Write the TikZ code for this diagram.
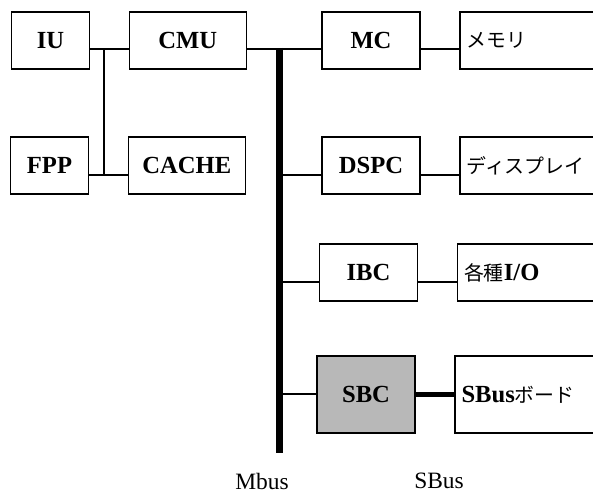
\documentclass[tikz,border=0pt]{standalone}
\usepackage{fontspec}
\setmainfont{Liberation Serif}
\newfontfamily\jfont{Noto Sans CJK JP}
\usetikzlibrary{positioning}

\begin{document}
\begin{tikzpicture}[x=0.3mm,y=-0.3mm,node distance=11.5mm,
  font=\fontsize{21}{24}\selectfont\bfseries]
\tikzstyle{blk}=[draw,line width=1.3pt,minimum height=17.1mm,inner sep=0pt,align=center]
\tikzstyle{dev}=[blk,minimum width=48mm,text width=44mm,inner xsep=2mm,align=left]
\tikzstyle{ln}=[line width=1.2pt]
\useasboundingbox (0,0) rectangle (593,495);
\clip (0,0) rectangle (593,495);
% processor side
\node[blk,minimum width=23.4mm] (iu) at (50.5,40.5) {IU};
\node[blk,minimum width=35.1mm,right=of iu] (cmu) {CMU};
\node[blk,minimum width=23.4mm] (fpp) at (49.5,165.5) {FPP};
\node[blk,minimum width=35.1mm,right=of fpp] (cache) {CACHE};
% controllers on the Mbus
\node[blk,minimum width=29.4mm] (mc) at (371,40.5) {MC};
\node[dev,right=of mc] (mem) {\jfont\mdseries\fontsize{17}{20}\selectfont メモリ};
\node[blk,minimum width=29.4mm] (dspc) at (371,165.5) {DSPC};
\node[dev,right=of dspc] (disp) {\jfont\mdseries\fontsize{17}{20}\selectfont ディスプレイ};
\node[blk,minimum width=29.4mm] (ibc) at (368.5,272.5) {IBC};
\node[dev,right=of ibc] (io) {{\jfont\mdseries\fontsize{17}{20}\selectfont 各種}I/O};
\node[blk,minimum width=29.4mm,minimum height=23.1mm,fill=black!28] (sbc) at (366,394.5) {SBC};
\node[dev,minimum height=23.1mm,right=of sbc] (sbd) {SBus{\jfont\mdseries\fontsize{17}{20}\selectfont ボード}};
% bus ends and taps
\coordinate (btop) at (279,48);
\coordinate (bbot) at (279,453);
\coordinate (j1) at (104,49);
\coordinate (j2) at (104,175);
\coordinate (j3) at (279,282);
\coordinate (j4) at (279,394);
\draw[ln] (iu.east|-j1) -- (cmu.west|-j1);
\draw[ln] (fpp.east|-j2) -- (cache.west|-j2);
\draw[ln] (j1) -- (j2);
\draw[ln] (cmu.east|-j1) -- (mc.west|-j1);
\draw[ln] (mc.east|-j1) -- (mem.west|-j1);
\draw[ln] (btop|-j2) -- (dspc.west|-j2);
\draw[ln] (dspc.east|-j2) -- (disp.west|-j2);
\draw[ln] (j3) -- (ibc.west|-j3);
\draw[ln] (ibc.east|-j3) -- (io.west|-j3);
\draw[ln] (j4) -- (sbc.west|-j4);
\draw[line width=1.5mm] (sbc.east|-j4) -- (sbd.west|-j4);
\draw[line width=2.1mm] (btop) -- (bbot);
% bus names
\node[font=\fontsize{20}{22}\selectfont] (mbus) at (262,481) {Mbus};
\node[font=\fontsize{20}{22}\selectfont] (sbus) at (439,481) {SBus};
\end{tikzpicture}
\end{document}
